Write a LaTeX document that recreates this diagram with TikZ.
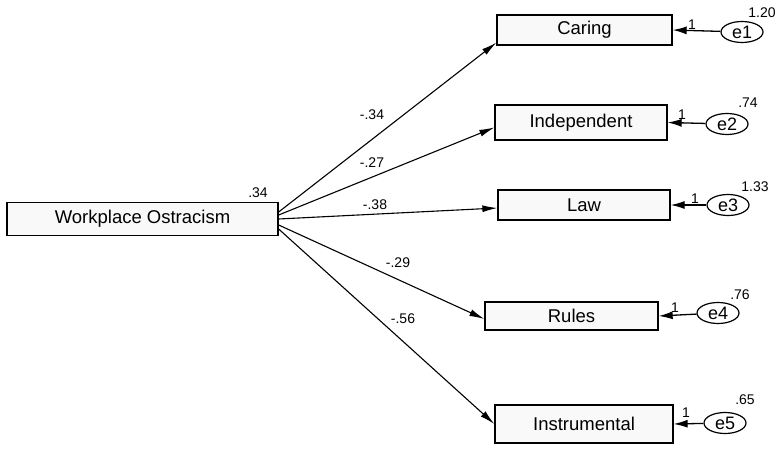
\documentclass[tikz,border=0pt]{standalone}
\usepackage{fontspec}
\setmainfont{Liberation Sans}
\usetikzlibrary{arrows.meta,shapes.geometric,calc}

\tikzset{
  varbox/.style={draw, line width=1.3pt, fill=gray!5, minimum width=#1, inner sep=0pt, font=\fontsize{18.5}{18.5}\selectfont},
  errnode/.style={draw, ellipse, line width=1.2pt, minimum width=42pt, minimum height=21pt, inner sep=0pt, font=\fontsize{18}{18}\selectfont},
  path/.style={line width=1.1pt, -{Latex[length=15pt,width=7pt]}},
  errpath/.style={line width=1.3pt, -{Latex[length=14pt,width=8pt]}},
  coef/.style={font=\fontsize{14}{14}\selectfont, inner sep=0pt},
}

\begin{document}
\begin{tikzpicture}[x=1pt,y=-1pt]
  \useasboundingbox (0,0) rectangle (778,449);

  % observed variables
  \node[varbox=271pt, minimum height=33pt] (wo) at (142.5,219) {Workplace Ostracism};
  \node[varbox=175pt, minimum height=30pt] (caring) at (584.5,30) {Caring};
  \node[varbox=172pt, minimum height=35pt] (indep) at (581,122.5) {Independent};
  \node[varbox=172pt, minimum height=30pt] (law) at (584,205) {Law};
  \node[varbox=173pt, minimum height=28pt] (rules) at (571.5,316) {Rules};
  \node[varbox=178pt, minimum height=38pt] (instr) at (584,424) {Instrumental};

  % error terms
  \node[errnode] (e1) at (742,32) {e1};
  \node[errnode] (e2) at (727,124) {e2};
  \node[errnode] (e3) at (728,205) {e3};
  \node[errnode] (e4) at (718,313) {e4};
  \node[errnode] (e5) at (725,423) {e5};

  % regression paths
  \draw[path] ($(wo.east)+(0,-7)$) -- ($(caring.south west)+(0,-3)$);
  \draw[path] ($(wo.east)+(0,-4)$) -- ($(indep.west)+(0,5)$);
  \draw[path] ($(wo.east)+(0,0)$) -- ($(law.west)+(0,3)$);
  \draw[path] ($(wo.east)+(0,6)$) -- ($(rules.west)+(0,3)$);
  \draw[path] ($(wo.east)+(0,10)$) -- (instr.west);

  % error paths
  \draw[errpath] (e1) -- (caring.east);
  \draw[errpath] (e2) -- (indep.east);
  \draw[errpath] (e3) -- (law.east);
  \draw[errpath] (e4) -- (rules.east);
  \draw[errpath] (e5) -- (instr.east);

  % path coefficients
  \node[coef] (c1) at (372,115) {-.34};
  \node[coef] (c2) at (372,163) {-.27};
  \node[coef] (c3) at (375,205) {-.38};
  \node[coef] (c4) at (398,263) {-.29};
  \node[coef] (c5) at (403,319) {-.56};

  % variances / squared multiple correlations
  \node[coef] (v0) at (258,193) {.34};
  \node[coef] (v1) at (762,13) {1.20};
  \node[coef] (v2) at (748,103) {.74};
  \node[coef] (v3) at (755,187) {1.33};
  \node[coef] (v4) at (740,295) {.76};
  \node[coef] (v5) at (745,400) {.65};

  % fixed loadings
  \node[coef] (f1) at (692,25) {1};
  \node[coef] (f2) at (682,115) {1};
  \node[coef] (f3) at (695,199) {1};
  \node[coef] (f4) at (675,308) {1};
  \node[coef] (f5) at (686,413) {1};
\end{tikzpicture}
\end{document}
